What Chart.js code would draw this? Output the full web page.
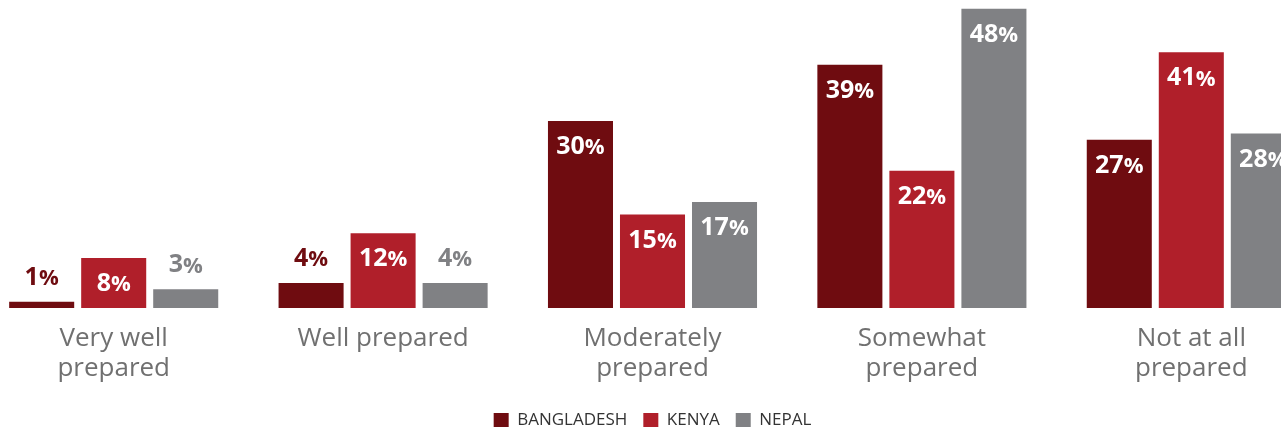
<!DOCTYPE html>
<html>
<head>
<meta charset="utf-8">
<script src="https://cdn.jsdelivr.net/npm/chart.js@4/dist/chart.umd.min.js"></script>
<style>
  html, body { margin: 0; padding: 0; background: #fff; overflow: hidden; }
  body { width: 1281px; height: 427px; position: relative; }
  #wrap { position: absolute; left: -21px; top: 0; width: 1347px; height: 427px; }
</style>
</head>
<body>
<div id="wrap"><canvas id="c"></canvas></div>
<script>
// Survey answers: how prepared people feel, by country (percent)
const categories = [
  ['Very well', 'prepared'],
  'Well prepared',
  ['Moderately', 'prepared'],
  ['Somewhat', 'prepared'],
  ['Not at all', 'prepared']
];
const countries = ['BANGLADESH', 'KENYA', 'NEPAL'];
const bangladesh = [1, 4, 30, 39, 27];
const kenya = [8, 12, 15, 22, 41];
const nepal = [3, 4, 17, 48, 28];
const colours = ['#6f0c10', '#b01f2a', '#808184'];

const FONT = '"Open Sans", "Noto Sans", sans-serif';

// Value labels: white inside tall bars, bar-coloured above short ones
const valueLabels = {
  id: 'valueLabels',
  afterDatasetsDraw(chart) {
    const ctx = chart.ctx;
    chart.data.datasets.forEach((ds, di) => {
      const meta = chart.getDatasetMeta(di);
      meta.data.forEach((bar, i) => {
        const v = ds.data[i];
        const h = bar.base - bar.y;
        const inside = h >= 40;
        const cy = inside ? bar.y + 26 : bar.y - 24;
        ctx.save();
        ctx.fillStyle = inside ? '#ffffff' : ds.backgroundColor;
        ctx.textBaseline = 'middle';
        const numFont = 'bold 25px ' + FONT;
        const pctFont = 'bold 22px ' + FONT;
        ctx.font = numFont;
        const wNum = ctx.measureText(String(v)).width;
        ctx.font = pctFont;
        const wPct = ctx.measureText('%').width;
        const x0 = bar.x - (wNum + wPct) / 2;
        ctx.textAlign = 'left';
        ctx.font = numFont;
        ctx.fillText(String(v), x0, cy);
        ctx.font = pctFont;
        ctx.fillText('%', x0 + wNum, cy + 1);
        ctx.restore();
      });
    });
  }
};

new Chart(document.getElementById('c'), {
  type: 'bar',
  data: {
    labels: categories,
    datasets: [
      { label: countries[0], data: bangladesh, backgroundColor: colours[0] },
      { label: countries[1], data: kenya, backgroundColor: colours[1] },
      { label: countries[2], data: nepal, backgroundColor: colours[2] }
    ]
  },
  options: {
    responsive: true,
    maintainAspectRatio: false,
    animation: false,
    layout: { padding: { top: 0, bottom: -12, left: 0, right: 0 } },
    datasets: {
      bar: { categoryPercentage: 0.802, barPercentage: 0.903 }
    },
    scales: {
      x: {
        grid: { display: false },
        border: { display: false },
        ticks: {
          color: '#707070',
          font: { family: FONT, size: 26, lineHeight: 30 / 26 },
          padding: 8,
          maxRotation: 0,
          autoSkip: false
        },
        afterFit(scale) { scale.height = 88; }
      },
      y: {
        display: false,
        min: 0,
        max: 49.4
      }
    },
    plugins: {
      legend: {
        position: 'bottom',
        labels: {
          boxWidth: 15,
          boxHeight: 15,
          padding: 16,
          color: '#333333',
          font: { family: FONT, size: 17 }
        }
      },
      tooltip: { enabled: false }
    }
  },
  plugins: [valueLabels]
});
</script>
</body>
</html>
